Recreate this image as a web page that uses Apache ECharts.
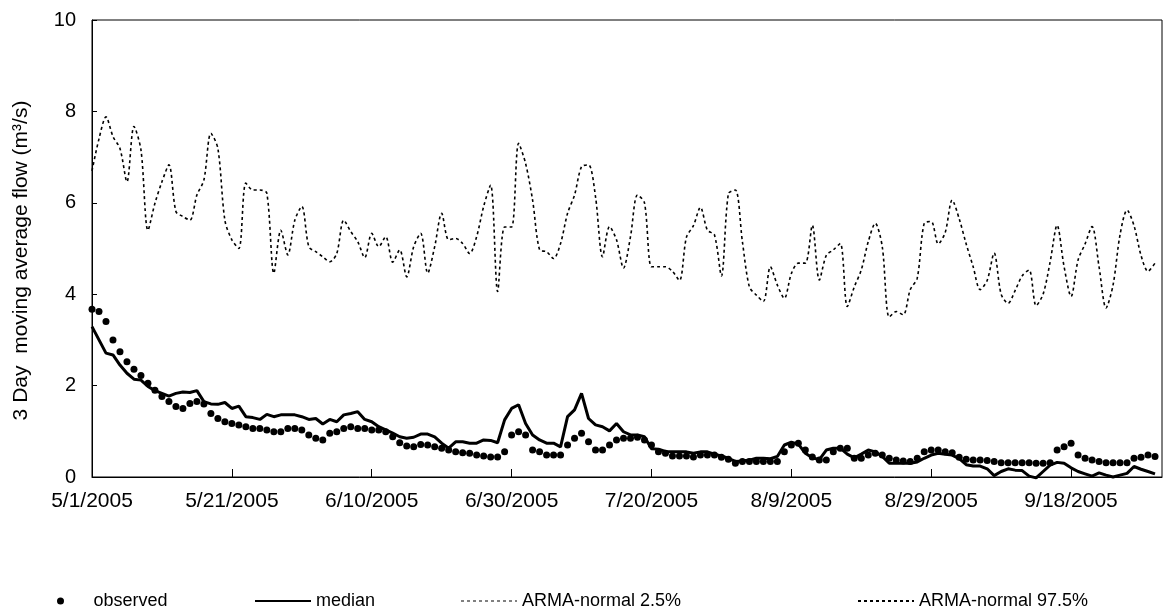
<!DOCTYPE html>
<html>
<head>
<meta charset="utf-8">
<script src="https://cdn.jsdelivr.net/npm/echarts@6/dist/echarts.min.js"></script>
<style>
  html, body { margin: 0; background: #fff; }
  #chart { width: 1167px; height: 612px; }
</style>
</head>
<body>
<div id="chart"></div>
<script>
// day 0 = 5/1/2005, one value per day up to 9/30/2005
const xTickLabels = ['5/1/2005', '5/21/2005', '6/10/2005', '6/30/2005', '7/20/2005', '8/9/2005', '8/29/2005', '9/18/2005']

const observed = [
  3.67, 3.62, 3.40, 3.00, 2.74, 2.52, 2.36, 2.22, 2.05, 1.90, 1.76, 1.65, 1.54, 1.50, 1.61, 1.65, 1.60, 1.39, 1.28, 1.21,
  1.17, 1.14, 1.10, 1.06, 1.06, 1.03, 0.99, 0.99, 1.06, 1.06, 1.03, 0.92, 0.85, 0.81, 0.96, 0.99, 1.06, 1.10, 1.06,
  1.06, 1.03, 1.03, 0.99, 0.88, 0.75, 0.68, 0.66, 0.71, 0.70, 0.66, 0.63, 0.59, 0.55, 0.53, 0.52, 0.48, 0.46, 0.44, 0.44,
  0.55, 0.92, 0.99, 0.92, 0.59, 0.55, 0.48, 0.48, 0.48, 0.70, 0.85, 0.96, 0.77, 0.59, 0.59, 0.70, 0.81, 0.85, 0.85,
  0.87, 0.81, 0.70, 0.55, 0.52, 0.46, 0.46, 0.46, 0.44, 0.48, 0.48, 0.48, 0.43, 0.39, 0.30, 0.34, 0.34, 0.34, 0.34, 0.34,
  0.34, 0.55, 0.70, 0.74, 0.59, 0.44, 0.37, 0.37, 0.55, 0.63, 0.63, 0.41, 0.41, 0.48, 0.52, 0.48, 0.41,
  0.37, 0.35, 0.34, 0.41, 0.55, 0.59, 0.59, 0.55, 0.53, 0.43, 0.39, 0.37, 0.37, 0.36, 0.34, 0.31, 0.31, 0.31, 0.31, 0.31,
  0.30, 0.30, 0.31, 0.59, 0.66, 0.74, 0.48, 0.41, 0.37, 0.34, 0.31, 0.31, 0.31, 0.31, 0.41, 0.43, 0.48, 0.45
]

const median = [
  3.29, 3.00, 2.71, 2.67, 2.45, 2.27, 2.14, 2.12, 1.98, 1.89, 1.83, 1.77, 1.83, 1.86, 1.85, 1.89, 1.65, 1.60, 1.59, 1.63,
  1.50, 1.55, 1.32, 1.30, 1.26, 1.37, 1.32, 1.36, 1.36, 1.36, 1.32, 1.26, 1.28, 1.16, 1.26, 1.21, 1.36, 1.39, 1.43,
  1.26, 1.21, 1.10, 1.03, 0.96, 0.88, 0.85, 0.87, 0.94, 0.94, 0.88, 0.74, 0.63, 0.77, 0.77, 0.74, 0.74, 0.81, 0.80, 0.75,
  1.25, 1.50, 1.58, 1.17, 0.92, 0.81, 0.74, 0.74, 0.66, 1.32, 1.47, 1.83, 1.28, 1.14, 1.10, 1.01, 1.17, 0.99, 0.92,
  0.92, 0.88, 0.62, 0.61, 0.56, 0.55, 0.55, 0.55, 0.52, 0.55, 0.55, 0.50, 0.46, 0.41, 0.34, 0.35, 0.37, 0.41, 0.41, 0.40,
  0.45, 0.70, 0.76, 0.72, 0.52, 0.42, 0.38, 0.59, 0.63, 0.63, 0.50, 0.42, 0.50, 0.59, 0.55, 0.45, 0.30, 0.30,
  0.30, 0.30, 0.33, 0.41, 0.48, 0.52, 0.50, 0.48, 0.40, 0.27, 0.24, 0.24, 0.18, 0.03, 0.12, 0.18, 0.15, 0.14, 0.02, -0.02,
  0.12, 0.26, 0.32, 0.30, 0.20, 0.12, 0.07, 0.02, 0.09, 0.04, 0.00, 0.04, 0.08, 0.23, 0.17, 0.12, 0.07
]

const upper975 = [
  6.70, 7.40, 7.88, 7.45, 7.19, 6.46, 7.67, 7.16, 5.40, 5.99, 6.46, 6.83, 5.81, 5.70, 5.62, 6.17, 6.50, 7.52, 7.19, 5.62,
  5.19, 5.00, 6.43, 6.28, 6.28, 6.21, 4.46, 5.40, 4.86, 5.62, 5.92, 5.04, 4.93, 4.82, 4.71, 4.89, 5.62, 5.37, 5.15,
  4.80, 5.33, 5.04, 5.26, 4.70, 4.97, 4.38, 5.04, 5.33, 4.46, 5.04, 5.77, 5.19, 5.22, 5.11, 4.89, 5.26, 5.92, 6.39, 4.06,
  5.47, 5.47, 7.30, 6.86, 6.06, 4.97, 4.93, 4.78, 5.11, 5.77, 6.17, 6.79, 6.83, 6.13, 4.82, 5.48, 5.19, 4.57, 5.26,
  6.17, 6.00, 4.60, 4.60, 4.60, 4.50, 4.30, 5.25, 5.50, 5.90, 5.40, 5.30, 4.40, 6.20, 6.28, 5.15, 4.16, 3.98, 3.84, 4.60,
  4.20, 3.91, 4.45, 4.68, 4.68, 5.51, 4.31, 4.85, 4.97, 5.11, 3.73, 4.16, 4.53, 5.15, 5.55, 5.04, 3.50,
  3.62, 3.55, 4.10, 4.35, 5.55, 5.59, 5.10, 5.35, 6.06, 5.65, 5.10, 4.60, 4.10, 4.30, 4.90, 4.00, 3.80, 4.08, 4.40, 4.53,
  3.75, 4.00, 4.70, 5.51, 4.60, 3.95, 4.75, 5.10, 5.48, 4.60, 3.70, 4.20, 5.30, 5.84, 5.50, 4.85, 4.50, 4.68
]

// the 2.5% band sits below zero and is not visible in the plot
const lower25 = []

const font = "'Liberation Sans', Arial, sans-serif"
const byDay = (arr) => arr.map((v, i) => [i, v])

const chart = echarts.init(document.getElementById('chart'))

const legendBase = {
  top: 587,
  itemHeight: 12,
  itemWidth: 56,
  itemGap: 0,
  selectedMode: false,
  itemStyle: { opacity: 0 },
  textStyle: { fontFamily: font, fontSize: 18, color: '#000' }
}

chart.setOption({
  backgroundColor: '#fff',
  animation: false,
  grid: {
    left: 92, right: 5, top: 20, bottom: 135,
    outerBoundsMode: 'none',
    containLabel: false,
    show: true, borderColor: '#000', borderWidth: 1
  },
  xAxis: {
    type: 'value',
    min: 0,
    max: 153,
    interval: 20,
    splitLine: { show: false },
    axisLine: { lineStyle: { color: '#000', width: 1 } },
    axisTick: { inside: true, length: 8, lineStyle: { color: '#000' } },
    axisLabel: {
      showMaxLabel: false,
      margin: 14,
      fontFamily: font, fontSize: 21, color: '#000',
      formatter: (v) => xTickLabels[v / 20] || ''
    }
  },
  yAxis: {
    type: 'value',
    min: 0,
    max: 10,
    interval: 2,
    name: '3 Day  moving average flow (m³/s)',
    nameLocation: 'middle',
    nameRotate: 90,
    nameGap: 60,
    nameTextStyle: { fontFamily: font, fontSize: 21, color: '#000', padding: [0, 24, 0, 0] },
    splitLine: { show: false },
    axisLine: { show: true, lineStyle: { color: '#000', width: 1 } },
    axisTick: { show: true, inside: true, length: 5, lineStyle: { color: '#000' } },
    axisLabel: { margin: 16, fontFamily: font, fontSize: 20, color: '#000' }
  },
  legend: [
    Object.assign({}, legendBase, {
      left: 52, itemHeight: 7, itemStyle: { opacity: 1 },
      data: [{ name: 'observed', icon: 'circle' }]
    }),
    Object.assign({}, legendBase, { left: 249, data: ['median'] }),
    Object.assign({}, legendBase, { left: 455, data: ['ARMA-normal 2.5%'] }),
    Object.assign({}, legendBase, { left: 852, data: ['ARMA-normal 97.5%'] })
  ],
  series: [
    {
      name: 'observed',
      type: 'scatter',
      symbol: 'circle',
      symbolSize: 7,
      itemStyle: { color: '#000', opacity: 1 },
      data: byDay(observed),
      z: 3
    },
    {
      name: 'median',
      type: 'line',
      symbol: 'none',
      clip: false,
      lineStyle: { color: '#000', width: 3 },
      itemStyle: { color: '#000' },
      data: byDay(median),
      z: 4
    },
    {
      name: 'ARMA-normal 2.5%',
      type: 'line',
      symbol: 'none',
      smooth: 0.3,
      lineStyle: { color: '#808080', width: 1, type: [3, 3] },
      itemStyle: { color: '#808080' },
      data: byDay(lower25)
    },
    {
      name: 'ARMA-normal 97.5%',
      type: 'line',
      symbol: 'none',
      smooth: 0.3,
      lineStyle: { color: '#000', width: 1.6, type: [3, 3] },
      itemStyle: { color: '#000' },
      data: byDay(upper975)
    }
  ]
})
</script>
</body>
</html>
